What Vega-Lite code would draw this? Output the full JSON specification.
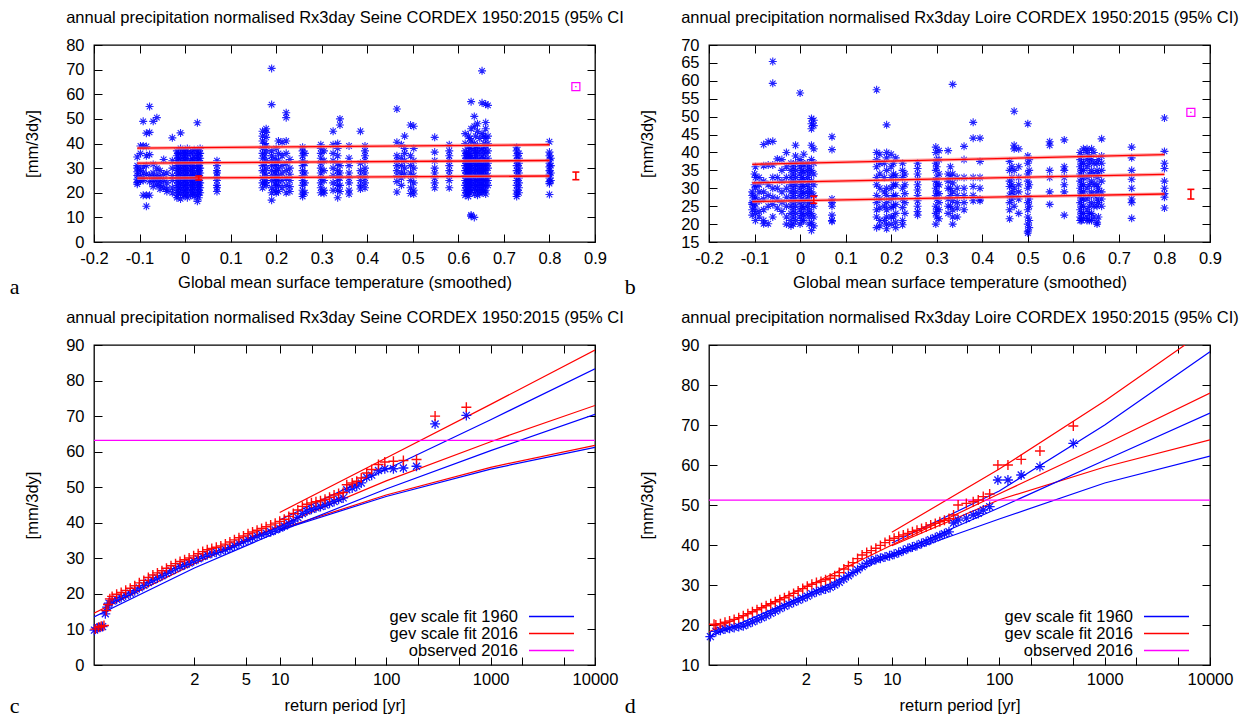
{
"$schema":"https://vega.github.io/schema/vega-lite/v6.json",
"background":"white",
"padding":{"left":8,"top":8,"right":0,"bottom":0},
"config":{
 "font":"Liberation Sans",
 "view":{"stroke":"#000","strokeWidth":1.3},
 "axis":{"domain":false,"grid":false,"labelFont":"Liberation Sans","titleFont":"Liberation Sans","labelFontSize":16.5,"titleFontSize":16.5,"titleFontWeight":"normal","labelColor":"#000","titleColor":"#000","tickColor":"#000","tickWidth":1,"tickSize":-8,"labelFlush":false,"labelOverlap":false}
},
"resolve":{"scale":{"color":"independent"},"legend":{"color":"independent"}},
"datasets":{
"aPts":[
{"t":-0.105,"v":34.5},{"t":-0.105,"v":31},{"t":-0.105,"v":28.5},{"t":-0.105,"v":27},{"t":-0.105,"v":25.5},{"t":-0.105,"v":24.2},{"t":-0.105,"v":23.5},{"t":-0.105,"v":30},
{"t":-0.098,"v":36},{"t":-0.098,"v":29},{"t":-0.098,"v":26.5},{"t":-0.098,"v":24.8},{"t":-0.098,"v":39},
{"t":-0.092,"v":49},{"t":-0.092,"v":39},{"t":-0.092,"v":30.5},{"t":-0.092,"v":28},{"t":-0.092,"v":25},{"t":-0.092,"v":19},{"t":-0.092,"v":26},
{"t":-0.085,"v":44.2},{"t":-0.085,"v":38.8},{"t":-0.085,"v":35},{"t":-0.085,"v":27.5},{"t":-0.085,"v":19},{"t":-0.085,"v":14.5},{"t":-0.085,"v":31},
{"t":-0.078,"v":55},{"t":-0.078,"v":44.5},{"t":-0.078,"v":35.5},{"t":-0.078,"v":27},{"t":-0.078,"v":24.5},{"t":-0.078,"v":19},
{"t":-0.07,"v":49},{"t":-0.07,"v":31.5},{"t":-0.07,"v":28},{"t":-0.07,"v":26},{"t":-0.07,"v":24.5},{"t":-0.07,"v":22.5},
{"t":-0.062,"v":50.5},{"t":-0.062,"v":30},{"t":-0.062,"v":27},{"t":-0.062,"v":25.5},{"t":-0.062,"v":23.5},
{"t":-0.055,"v":29},{"t":-0.055,"v":26.5},{"t":-0.055,"v":24.5},{"t":-0.055,"v":23},{"t":-0.055,"v":21.5},
{"t":-0.047,"v":33.5},{"t":-0.047,"v":27.5},{"t":-0.047,"v":25},{"t":-0.047,"v":22},
{"t":-0.04,"v":28},{"t":-0.04,"v":24},{"t":-0.04,"v":21.5},{"t":-0.04,"v":20.5},
{"t":-0.028,"v":42.3},{"t":-0.028,"v":33},{"t":-0.028,"v":30},{"t":-0.028,"v":27},{"t":-0.028,"v":25},{"t":-0.028,"v":22},{"t":-0.028,"v":20},
{"t":-0.018,"v":37},{"t":-0.018,"v":35},{"t":-0.018,"v":33},{"t":-0.018,"v":31},{"t":-0.018,"v":29},{"t":-0.018,"v":27},{"t":-0.018,"v":25},{"t":-0.018,"v":23},{"t":-0.018,"v":21},{"t":-0.018,"v":19},{"t":-0.018,"v":18},
{"t":-0.014,"v":36},{"t":-0.014,"v":34},{"t":-0.014,"v":32},{"t":-0.014,"v":30},{"t":-0.014,"v":28},{"t":-0.014,"v":26},{"t":-0.014,"v":24},{"t":-0.014,"v":22},{"t":-0.014,"v":20},
{"t":-0.01,"v":44.3},{"t":-0.01,"v":38},{"t":-0.01,"v":36},{"t":-0.01,"v":34},{"t":-0.01,"v":32},{"t":-0.01,"v":30},{"t":-0.01,"v":28},{"t":-0.01,"v":26},{"t":-0.01,"v":24},{"t":-0.01,"v":22},{"t":-0.01,"v":20},{"t":-0.01,"v":17.5},
{"t":-0.003,"v":37},{"t":-0.003,"v":35},{"t":-0.003,"v":33},{"t":-0.003,"v":31},{"t":-0.003,"v":29},{"t":-0.003,"v":27},{"t":-0.003,"v":25},{"t":-0.003,"v":23},{"t":-0.003,"v":21},{"t":-0.003,"v":19},
{"t":0.0,"v":37},{"t":0.0,"v":35},{"t":0.0,"v":33},{"t":0.0,"v":31},{"t":0.0,"v":29},{"t":0.0,"v":27},{"t":0.0,"v":25},{"t":0.0,"v":23},{"t":0.0,"v":21},{"t":0.0,"v":19},
{"t":0.005,"v":38},{"t":0.005,"v":36},{"t":0.005,"v":34},{"t":0.005,"v":32},{"t":0.005,"v":30},{"t":0.005,"v":28},{"t":0.005,"v":26},{"t":0.005,"v":24},{"t":0.005,"v":22},{"t":0.005,"v":20},{"t":0.005,"v":18},
{"t":0.012,"v":36},{"t":0.012,"v":33},{"t":0.012,"v":31},{"t":0.012,"v":29},{"t":0.012,"v":27},{"t":0.012,"v":25},{"t":0.012,"v":23},{"t":0.012,"v":21},{"t":0.012,"v":19},
{"t":0.016,"v":37},{"t":0.016,"v":34},{"t":0.016,"v":32},{"t":0.016,"v":30},{"t":0.016,"v":28},{"t":0.016,"v":26},{"t":0.016,"v":24},{"t":0.016,"v":22},{"t":0.016,"v":20},
{"t":0.02,"v":37.5},{"t":0.02,"v":35},{"t":0.02,"v":33},{"t":0.02,"v":30.5},{"t":0.02,"v":28},{"t":0.02,"v":26},{"t":0.02,"v":24},{"t":0.02,"v":22},{"t":0.02,"v":20},{"t":0.02,"v":18.5},
{"t":0.027,"v":48.4},{"t":0.027,"v":37},{"t":0.027,"v":35},{"t":0.027,"v":33},{"t":0.027,"v":31},{"t":0.027,"v":29},{"t":0.027,"v":27},{"t":0.027,"v":25},{"t":0.027,"v":23},{"t":0.027,"v":21},{"t":0.027,"v":19},{"t":0.027,"v":16.5},
{"t":0.03,"v":36},{"t":0.03,"v":34},{"t":0.03,"v":32},{"t":0.03,"v":30},{"t":0.03,"v":28},{"t":0.03,"v":24},{"t":0.03,"v":22},{"t":0.03,"v":20},{"t":0.03,"v":18},
{"t":0.033,"v":38},{"t":0.033,"v":36},{"t":0.033,"v":34},{"t":0.033,"v":32},{"t":0.033,"v":30},{"t":0.033,"v":28},{"t":0.033,"v":26},{"t":0.033,"v":24},{"t":0.033,"v":22},{"t":0.033,"v":20},
{"t":0.07,"v":33},{"t":0.07,"v":31},{"t":0.07,"v":29},{"t":0.07,"v":28},{"t":0.07,"v":26.5},{"t":0.07,"v":25},{"t":0.07,"v":23},{"t":0.07,"v":22},{"t":0.07,"v":20.5},
{"t":0.17,"v":45},{"t":0.17,"v":43},{"t":0.17,"v":41},{"t":0.17,"v":38},{"t":0.17,"v":36},{"t":0.17,"v":34},{"t":0.17,"v":31},{"t":0.17,"v":29},{"t":0.17,"v":26},{"t":0.17,"v":24},{"t":0.17,"v":22},
{"t":0.175,"v":40},{"t":0.175,"v":35},{"t":0.175,"v":32},{"t":0.175,"v":28},{"t":0.175,"v":24},
{"t":0.178,"v":46},{"t":0.178,"v":44.5},{"t":0.178,"v":42.5},{"t":0.178,"v":39},{"t":0.178,"v":37},{"t":0.178,"v":33},{"t":0.178,"v":30},{"t":0.178,"v":27},{"t":0.178,"v":25},{"t":0.178,"v":23},
{"t":0.19,"v":70.5},{"t":0.19,"v":55.8},{"t":0.19,"v":37},{"t":0.19,"v":35},{"t":0.19,"v":33},{"t":0.19,"v":31},{"t":0.19,"v":29},{"t":0.19,"v":27},{"t":0.19,"v":25},{"t":0.19,"v":22},{"t":0.19,"v":20},{"t":0.19,"v":17},
{"t":0.198,"v":34},{"t":0.198,"v":31},{"t":0.198,"v":28},{"t":0.198,"v":26},{"t":0.198,"v":24},{"t":0.198,"v":21},
{"t":0.2,"v":38},{"t":0.2,"v":32},{"t":0.2,"v":29},{"t":0.2,"v":26},{"t":0.2,"v":23},{"t":0.2,"v":20},
{"t":0.205,"v":41},{"t":0.205,"v":36},{"t":0.205,"v":33},{"t":0.205,"v":30},{"t":0.205,"v":27},{"t":0.205,"v":25},{"t":0.205,"v":23},{"t":0.205,"v":20.5},
{"t":0.213,"v":40.5},{"t":0.213,"v":35},{"t":0.213,"v":31},{"t":0.213,"v":28},{"t":0.213,"v":25},{"t":0.213,"v":22},
{"t":0.222,"v":52.5},{"t":0.222,"v":50.5},{"t":0.222,"v":41},{"t":0.222,"v":36},{"t":0.222,"v":32},{"t":0.222,"v":29},{"t":0.222,"v":26},{"t":0.222,"v":23},{"t":0.222,"v":20},
{"t":0.23,"v":33.5},{"t":0.23,"v":30},{"t":0.23,"v":27.5},{"t":0.23,"v":25},{"t":0.23,"v":22.5},{"t":0.23,"v":20.5},
{"t":0.258,"v":38.5},{"t":0.258,"v":37},{"t":0.258,"v":35},{"t":0.258,"v":33},{"t":0.258,"v":31},{"t":0.258,"v":29},{"t":0.258,"v":27},{"t":0.258,"v":25},{"t":0.258,"v":23},{"t":0.258,"v":21},{"t":0.258,"v":19.5},{"t":0.258,"v":18.5},
{"t":0.263,"v":36},{"t":0.263,"v":32},{"t":0.263,"v":28},{"t":0.263,"v":24},{"t":0.263,"v":20},
{"t":0.298,"v":39.5},{"t":0.298,"v":38},{"t":0.298,"v":36},{"t":0.298,"v":34},{"t":0.298,"v":32},{"t":0.298,"v":30},{"t":0.298,"v":28},{"t":0.298,"v":26},{"t":0.298,"v":24},{"t":0.298,"v":22},{"t":0.298,"v":20},
{"t":0.305,"v":37},{"t":0.305,"v":33},{"t":0.305,"v":29},{"t":0.305,"v":25},{"t":0.305,"v":21},{"t":0.305,"v":19.8},
{"t":0.325,"v":45},{"t":0.325,"v":39.5},{"t":0.325,"v":36},{"t":0.325,"v":33},{"t":0.325,"v":30},{"t":0.325,"v":27},{"t":0.325,"v":24},{"t":0.325,"v":21},
{"t":0.335,"v":40},{"t":0.335,"v":38},{"t":0.335,"v":35},{"t":0.335,"v":32},{"t":0.335,"v":29},{"t":0.335,"v":27},{"t":0.335,"v":25},{"t":0.335,"v":23},{"t":0.335,"v":21},{"t":0.335,"v":18},
{"t":0.34,"v":50},{"t":0.34,"v":47.5},{"t":0.34,"v":31},{"t":0.34,"v":28},{"t":0.34,"v":26},{"t":0.34,"v":23},{"t":0.34,"v":20.5},
{"t":0.36,"v":39},{"t":0.36,"v":34},{"t":0.36,"v":31},{"t":0.36,"v":28},{"t":0.36,"v":26},{"t":0.36,"v":24},{"t":0.36,"v":21},{"t":0.36,"v":19.5},
{"t":0.385,"v":45},{"t":0.385,"v":32},{"t":0.385,"v":29},{"t":0.385,"v":27},{"t":0.385,"v":25},{"t":0.385,"v":23},{"t":0.385,"v":21.5},
{"t":0.395,"v":39},{"t":0.395,"v":37},{"t":0.395,"v":35},{"t":0.395,"v":33},{"t":0.395,"v":30},{"t":0.395,"v":28},{"t":0.395,"v":26},{"t":0.395,"v":24},{"t":0.395,"v":22},
{"t":0.465,"v":54},{"t":0.465,"v":40.5},{"t":0.465,"v":35},{"t":0.465,"v":33},{"t":0.465,"v":31},{"t":0.465,"v":29},{"t":0.465,"v":27},{"t":0.465,"v":24.5},{"t":0.465,"v":20.3},
{"t":0.475,"v":39.5},{"t":0.475,"v":34},{"t":0.475,"v":31},{"t":0.475,"v":28},{"t":0.475,"v":26},{"t":0.475,"v":23},
{"t":0.482,"v":43},{"t":0.482,"v":38},{"t":0.482,"v":36},{"t":0.482,"v":33},{"t":0.482,"v":30},{"t":0.482,"v":27.5},
{"t":0.495,"v":47.5},{"t":0.495,"v":35},{"t":0.495,"v":31},{"t":0.495,"v":28},{"t":0.495,"v":25},{"t":0.495,"v":22},{"t":0.495,"v":19.7},
{"t":0.502,"v":47},{"t":0.502,"v":38},{"t":0.502,"v":33},{"t":0.502,"v":30},{"t":0.502,"v":27},{"t":0.502,"v":24},{"t":0.502,"v":21},{"t":0.502,"v":19.5},
{"t":0.548,"v":42.5},{"t":0.548,"v":36.5},{"t":0.548,"v":33},{"t":0.548,"v":30},{"t":0.548,"v":28},{"t":0.548,"v":26},{"t":0.548,"v":24},{"t":0.548,"v":22},
{"t":0.58,"v":39.5},{"t":0.58,"v":37},{"t":0.58,"v":35},{"t":0.58,"v":33},{"t":0.58,"v":31},{"t":0.58,"v":29},{"t":0.58,"v":27},{"t":0.58,"v":25},{"t":0.58,"v":22},
{"t":0.615,"v":44},{"t":0.615,"v":40},{"t":0.615,"v":37},{"t":0.615,"v":35},{"t":0.615,"v":33},{"t":0.615,"v":31},{"t":0.615,"v":29},{"t":0.615,"v":27},{"t":0.615,"v":25},{"t":0.615,"v":23},{"t":0.615,"v":21},{"t":0.615,"v":19},
{"t":0.618,"v":36},{"t":0.618,"v":34},{"t":0.618,"v":32},{"t":0.618,"v":30},{"t":0.618,"v":28},{"t":0.618,"v":26},{"t":0.618,"v":24},{"t":0.618,"v":22},{"t":0.618,"v":20},
{"t":0.622,"v":43},{"t":0.622,"v":39},{"t":0.622,"v":36},{"t":0.622,"v":34},{"t":0.622,"v":32},{"t":0.622,"v":30},{"t":0.622,"v":28},{"t":0.622,"v":26},{"t":0.622,"v":24},{"t":0.622,"v":22},{"t":0.622,"v":20},{"t":0.622,"v":18.5},
{"t":0.625,"v":42},{"t":0.625,"v":38},{"t":0.625,"v":36},{"t":0.625,"v":34},{"t":0.625,"v":32},{"t":0.625,"v":30},{"t":0.625,"v":28},{"t":0.625,"v":26},{"t":0.625,"v":24},{"t":0.625,"v":22},{"t":0.625,"v":20},
{"t":0.628,"v":57},{"t":0.628,"v":46},{"t":0.628,"v":41},{"t":0.628,"v":38},{"t":0.628,"v":35},{"t":0.628,"v":33},{"t":0.628,"v":31},{"t":0.628,"v":29},{"t":0.628,"v":27},{"t":0.628,"v":25},{"t":0.628,"v":23},{"t":0.628,"v":21},{"t":0.628,"v":10.5},{"t":0.628,"v":11},
{"t":0.635,"v":51},{"t":0.635,"v":47},{"t":0.635,"v":40},{"t":0.635,"v":37},{"t":0.635,"v":34},{"t":0.635,"v":32},{"t":0.635,"v":30},{"t":0.635,"v":28},{"t":0.635,"v":26},{"t":0.635,"v":24},{"t":0.635,"v":22},{"t":0.635,"v":19.5},{"t":0.635,"v":10},
{"t":0.638,"v":43},{"t":0.638,"v":39},{"t":0.638,"v":37},{"t":0.638,"v":35},{"t":0.638,"v":33},{"t":0.638,"v":31},{"t":0.638,"v":29},{"t":0.638,"v":27},{"t":0.638,"v":25},{"t":0.638,"v":23},{"t":0.638,"v":21},
{"t":0.642,"v":48},{"t":0.642,"v":45},{"t":0.642,"v":39},{"t":0.642,"v":36},{"t":0.642,"v":33},{"t":0.642,"v":31},{"t":0.642,"v":29},{"t":0.642,"v":27},{"t":0.642,"v":25},{"t":0.642,"v":23},{"t":0.642,"v":21},{"t":0.642,"v":19},
{"t":0.647,"v":42},{"t":0.647,"v":37},{"t":0.647,"v":34},{"t":0.647,"v":32},{"t":0.647,"v":30},{"t":0.647,"v":28},{"t":0.647,"v":26},{"t":0.647,"v":24},{"t":0.647,"v":22},{"t":0.647,"v":20},
{"t":0.652,"v":69.5},{"t":0.652,"v":56.5},{"t":0.652,"v":44},{"t":0.652,"v":38},{"t":0.652,"v":35},{"t":0.652,"v":32},{"t":0.652,"v":30},{"t":0.652,"v":28},{"t":0.652,"v":26},{"t":0.652,"v":24},{"t":0.652,"v":22},{"t":0.652,"v":20},
{"t":0.656,"v":43},{"t":0.656,"v":40},{"t":0.656,"v":37},{"t":0.656,"v":34},{"t":0.656,"v":31},{"t":0.656,"v":29},{"t":0.656,"v":27},{"t":0.656,"v":25},{"t":0.656,"v":23},{"t":0.656,"v":21},
{"t":0.66,"v":56},{"t":0.66,"v":48.5},{"t":0.66,"v":46},{"t":0.66,"v":42},{"t":0.66,"v":39},{"t":0.66,"v":36},{"t":0.66,"v":33},{"t":0.66,"v":31},{"t":0.66,"v":29},{"t":0.66,"v":27},{"t":0.66,"v":25},{"t":0.66,"v":23},{"t":0.66,"v":21},{"t":0.66,"v":19.5},
{"t":0.665,"v":55.5},{"t":0.665,"v":43},{"t":0.665,"v":40},{"t":0.665,"v":37},{"t":0.665,"v":34},{"t":0.665,"v":32},{"t":0.665,"v":30},{"t":0.665,"v":27},{"t":0.665,"v":25},{"t":0.665,"v":23},
{"t":0.728,"v":38.5},{"t":0.728,"v":37},{"t":0.728,"v":35},{"t":0.728,"v":33},{"t":0.728,"v":31},{"t":0.728,"v":29},{"t":0.728,"v":27},{"t":0.728,"v":25},{"t":0.728,"v":23},{"t":0.728,"v":21},{"t":0.728,"v":19.5},{"t":0.728,"v":18.5},
{"t":0.733,"v":36},{"t":0.733,"v":34},{"t":0.733,"v":32},{"t":0.733,"v":30},{"t":0.733,"v":28},{"t":0.733,"v":26},{"t":0.733,"v":24},{"t":0.733,"v":22},{"t":0.733,"v":20},
{"t":0.8,"v":40.7},{"t":0.8,"v":36.5},{"t":0.8,"v":35},{"t":0.8,"v":33.5},{"t":0.8,"v":32},{"t":0.8,"v":30.5},{"t":0.8,"v":29},{"t":0.8,"v":27.5},{"t":0.8,"v":26},{"t":0.8,"v":24.5},{"t":0.8,"v":23.7},{"t":0.8,"v":19.3},
{"t":0.803,"v":34},{"t":0.803,"v":31},{"t":0.803,"v":28},{"t":0.803,"v":25}
],
"bPts":[
{"t":-0.105,"v":29},{"t":-0.105,"v":26},{"t":-0.105,"v":24},{"t":-0.105,"v":22.5},{"t":-0.105,"v":25.5},{"t":-0.105,"v":28},
{"t":-0.1,"v":27},{"t":-0.1,"v":24.5},{"t":-0.1,"v":31},{"t":-0.1,"v":34},
{"t":-0.098,"v":36},{"t":-0.098,"v":33},{"t":-0.098,"v":30.3},{"t":-0.098,"v":27.5},{"t":-0.098,"v":25.6},{"t":-0.098,"v":23},{"t":-0.098,"v":21},
{"t":-0.09,"v":33},{"t":-0.09,"v":31},{"t":-0.09,"v":29},{"t":-0.09,"v":26.5},{"t":-0.09,"v":23.5},{"t":-0.09,"v":22},
{"t":-0.08,"v":42.2},{"t":-0.08,"v":36.3},{"t":-0.08,"v":32},{"t":-0.08,"v":29},{"t":-0.08,"v":27},{"t":-0.08,"v":24},{"t":-0.08,"v":21},{"t":-0.08,"v":20.1},
{"t":-0.07,"v":43},{"t":-0.07,"v":36.5},{"t":-0.07,"v":31},{"t":-0.07,"v":28},{"t":-0.07,"v":25},{"t":-0.07,"v":20.1},
{"t":-0.06,"v":65.4},{"t":-0.06,"v":59.3},{"t":-0.06,"v":43.1},{"t":-0.06,"v":36.5},{"t":-0.06,"v":33},{"t":-0.06,"v":30},{"t":-0.06,"v":27.5},{"t":-0.06,"v":25.5},{"t":-0.06,"v":22},
{"t":-0.05,"v":38.2},{"t":-0.05,"v":33},{"t":-0.05,"v":30},{"t":-0.05,"v":27},{"t":-0.05,"v":24.5},
{"t":-0.04,"v":38},{"t":-0.04,"v":35},{"t":-0.04,"v":32},{"t":-0.04,"v":29},{"t":-0.04,"v":26},{"t":-0.04,"v":23.5},
{"t":-0.03,"v":40},{"t":-0.03,"v":36},{"t":-0.03,"v":33},{"t":-0.03,"v":30},{"t":-0.03,"v":27.5},{"t":-0.03,"v":25},{"t":-0.03,"v":22},{"t":-0.03,"v":20},
{"t":-0.02,"v":37},{"t":-0.02,"v":35},{"t":-0.02,"v":33},{"t":-0.02,"v":31},{"t":-0.02,"v":29},{"t":-0.02,"v":27},{"t":-0.02,"v":25},{"t":-0.02,"v":23},{"t":-0.02,"v":21},{"t":-0.02,"v":19.5},
{"t":-0.015,"v":36},{"t":-0.015,"v":34},{"t":-0.015,"v":32},{"t":-0.015,"v":30},{"t":-0.015,"v":28},{"t":-0.015,"v":26},{"t":-0.015,"v":24},{"t":-0.015,"v":22},{"t":-0.015,"v":20},
{"t":-0.01,"v":42},{"t":-0.01,"v":39},{"t":-0.01,"v":37},{"t":-0.01,"v":35},{"t":-0.01,"v":33},{"t":-0.01,"v":31},{"t":-0.01,"v":29},{"t":-0.01,"v":27},{"t":-0.01,"v":25},{"t":-0.01,"v":23},{"t":-0.01,"v":21},
{"t":0,"v":56.6},{"t":0,"v":38},{"t":0,"v":36},{"t":0,"v":34},{"t":0,"v":32},{"t":0,"v":30},{"t":0,"v":28},{"t":0,"v":26},{"t":0,"v":24},{"t":0,"v":22},{"t":0,"v":20},
{"t":0.004,"v":37},{"t":0.004,"v":35},{"t":0.004,"v":33},{"t":0.004,"v":31},{"t":0.004,"v":29},{"t":0.004,"v":27},{"t":0.004,"v":25},{"t":0.004,"v":23},{"t":0.004,"v":21},
{"t":0.008,"v":39.5},{"t":0.008,"v":36.5},{"t":0.008,"v":34.5},{"t":0.008,"v":32.5},{"t":0.008,"v":30.5},{"t":0.008,"v":28.5},{"t":0.008,"v":26.5},{"t":0.008,"v":24.5},{"t":0.008,"v":22.5},{"t":0.008,"v":21},
{"t":0.016,"v":37},{"t":0.016,"v":35},{"t":0.016,"v":33},{"t":0.016,"v":31},{"t":0.016,"v":29},{"t":0.016,"v":27},{"t":0.016,"v":25},{"t":0.016,"v":23},
{"t":0.02,"v":36},{"t":0.02,"v":34},{"t":0.02,"v":32},{"t":0.02,"v":30},{"t":0.02,"v":28},{"t":0.02,"v":26},{"t":0.02,"v":24},{"t":0.02,"v":22},{"t":0.02,"v":20},
{"t":0.025,"v":49.5},{"t":0.025,"v":48},{"t":0.025,"v":46.6},{"t":0.025,"v":42},{"t":0.025,"v":38},{"t":0.025,"v":35},{"t":0.025,"v":32},{"t":0.025,"v":29},{"t":0.025,"v":26},{"t":0.025,"v":23},{"t":0.025,"v":20.5},{"t":0.025,"v":18.2},
{"t":0.03,"v":49},{"t":0.03,"v":47.5},{"t":0.03,"v":41},{"t":0.03,"v":37},{"t":0.03,"v":34},{"t":0.03,"v":31},{"t":0.03,"v":28},{"t":0.03,"v":25},{"t":0.03,"v":22},{"t":0.03,"v":19.5},
{"t":0.07,"v":44.4},{"t":0.07,"v":40.8},{"t":0.07,"v":27},{"t":0.07,"v":26},{"t":0.07,"v":25},{"t":0.07,"v":22.5},{"t":0.07,"v":21},{"t":0.07,"v":20.8},
{"t":0.168,"v":57.5},{"t":0.168,"v":40},{"t":0.168,"v":38},{"t":0.168,"v":36},{"t":0.168,"v":33},{"t":0.168,"v":31},{"t":0.168,"v":28},{"t":0.168,"v":26},{"t":0.168,"v":24},{"t":0.168,"v":22},{"t":0.168,"v":19},
{"t":0.175,"v":39.5},{"t":0.175,"v":37},{"t":0.175,"v":34},{"t":0.175,"v":30},{"t":0.175,"v":27},{"t":0.175,"v":24.5},{"t":0.175,"v":21},{"t":0.175,"v":19.5},
{"t":0.185,"v":37},{"t":0.185,"v":33},{"t":0.185,"v":29},{"t":0.185,"v":25},{"t":0.185,"v":21},
{"t":0.19,"v":47.7},{"t":0.19,"v":40},{"t":0.19,"v":38.5},{"t":0.19,"v":35},{"t":0.19,"v":30},{"t":0.19,"v":28},{"t":0.19,"v":26},{"t":0.19,"v":24},{"t":0.19,"v":22},{"t":0.19,"v":20},{"t":0.19,"v":18.7},
{"t":0.2,"v":39.5},{"t":0.2,"v":36},{"t":0.2,"v":33},{"t":0.2,"v":30},{"t":0.2,"v":27},{"t":0.2,"v":24.6},{"t":0.2,"v":22},{"t":0.2,"v":20},
{"t":0.205,"v":37},{"t":0.205,"v":34},{"t":0.205,"v":31},{"t":0.205,"v":28},{"t":0.205,"v":25},{"t":0.205,"v":22},
{"t":0.21,"v":38.5},{"t":0.21,"v":33.5},{"t":0.21,"v":31},{"t":0.21,"v":28},{"t":0.21,"v":25.5},{"t":0.21,"v":23},{"t":0.21,"v":20.5},{"t":0.21,"v":19},
{"t":0.225,"v":37},{"t":0.225,"v":35},{"t":0.225,"v":33},{"t":0.225,"v":30},{"t":0.225,"v":27},{"t":0.225,"v":24.6},{"t":0.225,"v":21},{"t":0.225,"v":19.8},
{"t":0.23,"v":34},{"t":0.23,"v":31},{"t":0.23,"v":28.5},{"t":0.23,"v":26},{"t":0.23,"v":23},
{"t":0.258,"v":37},{"t":0.258,"v":35.5},{"t":0.258,"v":34},{"t":0.258,"v":32.5},{"t":0.258,"v":31},{"t":0.258,"v":29.5},{"t":0.258,"v":28},{"t":0.258,"v":26.5},{"t":0.258,"v":25},{"t":0.258,"v":23.5},{"t":0.258,"v":22.5},
{"t":0.298,"v":41.5},{"t":0.298,"v":40},{"t":0.298,"v":37},{"t":0.298,"v":35},{"t":0.298,"v":32},{"t":0.298,"v":30},{"t":0.298,"v":28},{"t":0.298,"v":25},{"t":0.298,"v":23},{"t":0.298,"v":20},
{"t":0.3,"v":38},{"t":0.3,"v":36},{"t":0.3,"v":33},{"t":0.3,"v":31},{"t":0.3,"v":29},{"t":0.3,"v":27},{"t":0.3,"v":24},{"t":0.3,"v":22},
{"t":0.305,"v":40.5},{"t":0.305,"v":38},{"t":0.305,"v":34},{"t":0.305,"v":31},{"t":0.305,"v":28.5},{"t":0.305,"v":26},{"t":0.305,"v":24},{"t":0.305,"v":21.5},
{"t":0.325,"v":40.5},{"t":0.325,"v":34},{"t":0.325,"v":32},{"t":0.325,"v":30},{"t":0.325,"v":27},{"t":0.325,"v":25},{"t":0.325,"v":23},
{"t":0.33,"v":36},{"t":0.33,"v":33},{"t":0.33,"v":30},{"t":0.33,"v":28},{"t":0.33,"v":25},
{"t":0.335,"v":59},{"t":0.335,"v":34},{"t":0.335,"v":31.5},{"t":0.335,"v":29},{"t":0.335,"v":26.5},{"t":0.335,"v":24},{"t":0.335,"v":22},{"t":0.335,"v":20},
{"t":0.345,"v":33},{"t":0.345,"v":30},{"t":0.345,"v":28},{"t":0.345,"v":26},{"t":0.345,"v":24.5},{"t":0.345,"v":22},
{"t":0.36,"v":41.7},{"t":0.36,"v":38},{"t":0.36,"v":33},{"t":0.36,"v":30},{"t":0.36,"v":28},{"t":0.36,"v":26},{"t":0.36,"v":24},
{"t":0.38,"v":48.4},{"t":0.38,"v":44},{"t":0.38,"v":33},{"t":0.38,"v":30.5},{"t":0.38,"v":28},{"t":0.38,"v":26.5},
{"t":0.395,"v":44},{"t":0.395,"v":37.5},{"t":0.395,"v":33},{"t":0.395,"v":30},{"t":0.395,"v":27},{"t":0.395,"v":26.5},
{"t":0.46,"v":37.5},{"t":0.46,"v":35},{"t":0.46,"v":32},{"t":0.46,"v":30.5},{"t":0.46,"v":28},{"t":0.46,"v":26},{"t":0.46,"v":24},{"t":0.46,"v":21.5},
{"t":0.465,"v":36},{"t":0.465,"v":33},{"t":0.465,"v":31},{"t":0.465,"v":29},{"t":0.465,"v":27},
{"t":0.47,"v":51.5},{"t":0.47,"v":42},{"t":0.47,"v":41},{"t":0.47,"v":35},{"t":0.47,"v":30},{"t":0.47,"v":28},{"t":0.47,"v":25},
{"t":0.48,"v":41},{"t":0.48,"v":36},{"t":0.48,"v":33},{"t":0.48,"v":31},{"t":0.48,"v":29},{"t":0.48,"v":27},{"t":0.48,"v":23},
{"t":0.5,"v":48},{"t":0.5,"v":39},{"t":0.5,"v":37},{"t":0.5,"v":34},{"t":0.5,"v":32},{"t":0.5,"v":30},{"t":0.5,"v":28},{"t":0.5,"v":26},{"t":0.5,"v":24},{"t":0.5,"v":22},{"t":0.5,"v":20},{"t":0.5,"v":18},{"t":0.5,"v":17.5},
{"t":0.503,"v":38},{"t":0.503,"v":35},{"t":0.503,"v":31},{"t":0.503,"v":27},{"t":0.503,"v":25},{"t":0.503,"v":21},{"t":0.503,"v":19},
{"t":0.548,"v":43},{"t":0.548,"v":42},{"t":0.548,"v":35},{"t":0.548,"v":33},{"t":0.548,"v":29},{"t":0.548,"v":25.5},
{"t":0.58,"v":43.5},{"t":0.58,"v":36},{"t":0.58,"v":35},{"t":0.58,"v":33},{"t":0.58,"v":31},{"t":0.58,"v":29},{"t":0.58,"v":22.5},
{"t":0.615,"v":40},{"t":0.615,"v":38},{"t":0.615,"v":36},{"t":0.615,"v":34},{"t":0.615,"v":32},{"t":0.615,"v":30},{"t":0.615,"v":28},{"t":0.615,"v":26},{"t":0.615,"v":24},{"t":0.615,"v":22},{"t":0.615,"v":21},
{"t":0.618,"v":39},{"t":0.618,"v":37},{"t":0.618,"v":35},{"t":0.618,"v":33},{"t":0.618,"v":31},{"t":0.618,"v":29},{"t":0.618,"v":27},{"t":0.618,"v":25},{"t":0.618,"v":23},{"t":0.618,"v":21},
{"t":0.622,"v":41},{"t":0.622,"v":37},{"t":0.622,"v":35},{"t":0.622,"v":33},{"t":0.622,"v":31},{"t":0.622,"v":29},{"t":0.622,"v":27},{"t":0.622,"v":25},{"t":0.622,"v":23},{"t":0.622,"v":21.5},
{"t":0.63,"v":41},{"t":0.63,"v":40},{"t":0.63,"v":38},{"t":0.63,"v":36},{"t":0.63,"v":33},{"t":0.63,"v":30},{"t":0.63,"v":27},{"t":0.63,"v":24},{"t":0.63,"v":22},{"t":0.63,"v":21},
{"t":0.635,"v":39},{"t":0.635,"v":37},{"t":0.635,"v":34},{"t":0.635,"v":31},{"t":0.635,"v":28},{"t":0.635,"v":25},{"t":0.635,"v":23},{"t":0.635,"v":21},
{"t":0.64,"v":41},{"t":0.64,"v":38},{"t":0.64,"v":35},{"t":0.64,"v":32},{"t":0.64,"v":29},{"t":0.64,"v":26},{"t":0.64,"v":23},{"t":0.64,"v":21},
{"t":0.645,"v":40},{"t":0.645,"v":37},{"t":0.645,"v":34},{"t":0.645,"v":31},{"t":0.645,"v":28},{"t":0.645,"v":25},{"t":0.645,"v":22},
{"t":0.652,"v":37},{"t":0.652,"v":35},{"t":0.652,"v":33},{"t":0.652,"v":31},{"t":0.652,"v":29},{"t":0.652,"v":27},{"t":0.652,"v":25},{"t":0.652,"v":20.5},{"t":0.652,"v":20},
{"t":0.655,"v":38},{"t":0.655,"v":34},{"t":0.655,"v":30},{"t":0.655,"v":26},{"t":0.655,"v":22},
{"t":0.662,"v":43.8},{"t":0.662,"v":39},{"t":0.662,"v":37},{"t":0.662,"v":35},{"t":0.662,"v":32},{"t":0.662,"v":29},{"t":0.662,"v":27},{"t":0.662,"v":25},
{"t":0.728,"v":41.5},{"t":0.728,"v":38.5},{"t":0.728,"v":35},{"t":0.728,"v":32.5},{"t":0.728,"v":30},{"t":0.728,"v":27},{"t":0.728,"v":26},{"t":0.728,"v":21.6},
{"t":0.8,"v":49.6},{"t":0.8,"v":40.3},{"t":0.8,"v":37},{"t":0.8,"v":35.5},{"t":0.8,"v":32},{"t":0.8,"v":30},{"t":0.8,"v":28.5},{"t":0.8,"v":27.5},{"t":0.8,"v":24.5}
],
"aFit":[{"t":-0.105,"v":25.9,"q":"lo"},{"t":0.8,"v":26.8,"q":"lo"},{"t":-0.105,"v":32.0,"q":"mid"},{"t":0.8,"v":33.1,"q":"mid"},{"t":-0.105,"v":38.1,"q":"hi"},{"t":0.8,"v":39.5,"q":"hi"}],
"bFit":[{"t":-0.105,"v":26.3,"q":"lo"},{"t":0.8,"v":28.4,"q":"lo"},{"t":-0.105,"v":31.5,"q":"mid"},{"t":0.8,"v":33.9,"q":"mid"},{"t":-0.105,"v":36.7,"q":"hi"},{"t":0.8,"v":39.4,"q":"hi"}],
"aErr":[{"t":0.03,"v":25.2,"v2":26.8},{"t":0.858,"v":25.3,"v2":28.4}],
"bErr":[{"t":0.03,"v":25.8,"v2":27.8},{"t":0.858,"v":27.0,"v2":29.7}],
"aObs":[{"t":0.858,"v":63.1}],
"bObs":[{"t":0.858,"v":51.2}],
"cFit":[
{"g":2.25,"v":42.9,"series":"gev scale fit 2016","band":"up"},{"g":4.6,"v":58.2,"series":"gev scale fit 2016","band":"up"},{"g":6.907,"v":73.3,"series":"gev scale fit 2016","band":"up"},{"g":9.21,"v":88.6,"series":"gev scale fit 2016","band":"up"},
{"g":-1.85,"v":14.6,"series":"gev scale fit 2016","band":"mid"},{"g":0.366,"v":28.5,"series":"gev scale fit 2016","band":"mid"},{"g":2.25,"v":39.2,"series":"gev scale fit 2016","band":"mid"},{"g":4.6,"v":51.8,"series":"gev scale fit 2016","band":"mid"},{"g":6.907,"v":62.8,"series":"gev scale fit 2016","band":"mid"},{"g":9.21,"v":73.0,"series":"gev scale fit 2016","band":"mid"},
{"g":2.25,"v":38.2,"series":"gev scale fit 2016","band":"lo"},{"g":4.6,"v":47.8,"series":"gev scale fit 2016","band":"lo"},{"g":6.907,"v":55.6,"series":"gev scale fit 2016","band":"lo"},{"g":9.21,"v":61.8,"series":"gev scale fit 2016","band":"lo"},
{"g":2.25,"v":40.8,"series":"gev scale fit 1960","band":"up"},{"g":4.6,"v":55.0,"series":"gev scale fit 1960","band":"up"},{"g":6.907,"v":69.0,"series":"gev scale fit 1960","band":"up"},{"g":9.21,"v":83.3,"series":"gev scale fit 1960","band":"up"},
{"g":-1.85,"v":13.5,"series":"gev scale fit 1960","band":"mid"},{"g":0.366,"v":27.3,"series":"gev scale fit 1960","band":"mid"},{"g":2.25,"v":37.6,"series":"gev scale fit 1960","band":"mid"},{"g":4.6,"v":49.5,"series":"gev scale fit 1960","band":"mid"},{"g":6.907,"v":60.3,"series":"gev scale fit 1960","band":"mid"},{"g":9.21,"v":70.5,"series":"gev scale fit 1960","band":"mid"},
{"g":2.25,"v":37.9,"series":"gev scale fit 1960","band":"lo"},{"g":4.6,"v":47.4,"series":"gev scale fit 1960","band":"lo"},{"g":6.907,"v":55.1,"series":"gev scale fit 1960","band":"lo"},{"g":9.21,"v":61.2,"series":"gev scale fit 1960","band":"lo"}
],
"dFit":[
{"g":2.25,"v":43.2,"series":"gev scale fit 2016","band":"up"},{"g":4.6,"v":59.0,"series":"gev scale fit 2016","band":"up"},{"g":6.907,"v":76.0,"series":"gev scale fit 2016","band":"up"},{"g":8.66,"v":90.0,"series":"gev scale fit 2016","band":"up"},
{"g":-1.75,"v":18.3,"series":"gev scale fit 2016","band":"mid"},{"g":0.366,"v":29.5,"series":"gev scale fit 2016","band":"mid"},{"g":2.25,"v":40.0,"series":"gev scale fit 2016","band":"mid"},{"g":4.6,"v":52.8,"series":"gev scale fit 2016","band":"mid"},{"g":6.907,"v":65.2,"series":"gev scale fit 2016","band":"mid"},{"g":9.21,"v":78.0,"series":"gev scale fit 2016","band":"mid"},
{"g":2.25,"v":39.8,"series":"gev scale fit 2016","band":"lo"},{"g":4.6,"v":51.3,"series":"gev scale fit 2016","band":"lo"},{"g":6.907,"v":59.5,"series":"gev scale fit 2016","band":"lo"},{"g":9.21,"v":66.3,"series":"gev scale fit 2016","band":"lo"},
{"g":2.25,"v":40.5,"series":"gev scale fit 1960","band":"up"},{"g":4.6,"v":53.5,"series":"gev scale fit 1960","band":"up"},{"g":6.907,"v":70.0,"series":"gev scale fit 1960","band":"up"},{"g":9.21,"v":88.3,"series":"gev scale fit 1960","band":"up"},
{"g":-1.75,"v":17.0,"series":"gev scale fit 1960","band":"mid"},{"g":0.366,"v":27.5,"series":"gev scale fit 1960","band":"mid"},{"g":2.25,"v":37.5,"series":"gev scale fit 1960","band":"mid"},{"g":4.6,"v":49.3,"series":"gev scale fit 1960","band":"mid"},{"g":6.907,"v":61.2,"series":"gev scale fit 1960","band":"mid"},{"g":9.21,"v":73.0,"series":"gev scale fit 1960","band":"mid"},
{"g":2.25,"v":37.0,"series":"gev scale fit 1960","band":"lo"},{"g":4.6,"v":46.5,"series":"gev scale fit 1960","band":"lo"},{"g":6.907,"v":55.5,"series":"gev scale fit 1960","band":"lo"},{"g":9.21,"v":62.2,"series":"gev scale fit 1960","band":"lo"}
],
"cObs":[{"v":63.2,"series":"observed 2016"}],
"dObs":[{"v":51.2,"series":"observed 2016"}],
"cBlue":[
{"g":-1.84,"v":9.8},{"g":-1.78,"v":10.4},{"g":-1.72,"v":10.6},{"g":-1.66,"v":10.8},{"g":-1.6,"v":14.4},{"g":-1.56,"v":16.3},{"g":-1.52,"v":17.4},
{"g":-1.45,"v":18.0},{"g":-1.35,"v":18.5},{"g":-1.25,"v":19.0},{"g":-1.15,"v":19.6},{"g":-1.05,"v":20.2},{"g":-0.95,"v":20.9},{"g":-0.85,"v":21.7},{"g":-0.75,"v":22.4},{"g":-0.65,"v":23.2},{"g":-0.55,"v":23.9},{"g":-0.45,"v":24.5},{"g":-0.35,"v":25.1},{"g":-0.25,"v":25.8},{"g":-0.15,"v":26.5},{"g":-0.05,"v":27.1},{"g":0.05,"v":27.7},{"g":0.15,"v":28.2},{"g":0.25,"v":28.7},{"g":0.35,"v":29.3},{"g":0.45,"v":29.9},{"g":0.55,"v":30.5},{"g":0.65,"v":31.0},{"g":0.75,"v":31.4},{"g":0.85,"v":31.7},{"g":0.95,"v":32.1},{"g":1.05,"v":32.5},{"g":1.15,"v":33.0},{"g":1.25,"v":33.6},{"g":1.35,"v":34.2},{"g":1.45,"v":34.7},{"g":1.55,"v":35.3},{"g":1.65,"v":35.8},{"g":1.75,"v":36.3},{"g":1.85,"v":36.7},{"g":1.95,"v":37.1},{"g":2.05,"v":37.5},{"g":2.15,"v":38.0},{"g":2.25,"v":38.5},{"g":2.35,"v":39.1},{"g":2.45,"v":39.8},{"g":2.55,"v":40.5},{"g":2.65,"v":41.5},{"g":2.75,"v":42.6},{"g":2.85,"v":43.3},{"g":2.95,"v":43.8},{"g":3.05,"v":44.2},{"g":3.15,"v":44.6},{"g":3.25,"v":45.0},{"g":3.35,"v":45.5},{"g":3.45,"v":46.0},{"g":3.55,"v":46.6},{"g":3.65,"v":47.0},
{"g":3.73,"v":49.3},{"g":3.85,"v":49.8},{"g":3.95,"v":50.3},{"g":4.05,"v":51.2},{"g":4.17,"v":52.8},{"g":4.28,"v":53.4},{"g":4.43,"v":54.7},{"g":4.57,"v":55.2},{"g":4.76,"v":55.2},{"g":4.98,"v":55.4},{"g":5.27,"v":55.9},{"g":5.68,"v":67.8},{"g":6.37,"v":70.2}
],
"cRed":[
{"g":-1.82,"v":10.1},{"g":-1.75,"v":10.6},{"g":-1.69,"v":10.9},{"g":-1.63,"v":11.1},{"g":-1.58,"v":15.3},{"g":-1.54,"v":17.0},{"g":-1.5,"v":18.6},
{"g":-1.45,"v":19.3},{"g":-1.35,"v":19.9},{"g":-1.25,"v":20.4},{"g":-1.15,"v":21.0},{"g":-1.05,"v":21.6},{"g":-0.95,"v":22.3},{"g":-0.85,"v":23.1},{"g":-0.75,"v":23.8},{"g":-0.65,"v":24.6},{"g":-0.55,"v":25.3},{"g":-0.45,"v":25.9},{"g":-0.35,"v":26.5},{"g":-0.25,"v":27.2},{"g":-0.15,"v":27.9},{"g":-0.05,"v":28.5},{"g":0.05,"v":29.1},{"g":0.15,"v":29.6},{"g":0.25,"v":30.1},{"g":0.35,"v":30.7},{"g":0.45,"v":31.3},{"g":0.55,"v":31.9},{"g":0.65,"v":32.4},{"g":0.75,"v":32.8},{"g":0.85,"v":33.1},{"g":0.95,"v":33.5},{"g":1.05,"v":34.0},{"g":1.15,"v":34.6},{"g":1.25,"v":35.2},{"g":1.35,"v":35.8},{"g":1.45,"v":36.3},{"g":1.55,"v":36.9},{"g":1.65,"v":37.4},{"g":1.75,"v":37.9},{"g":1.85,"v":38.4},{"g":1.95,"v":38.9},{"g":2.05,"v":39.4},{"g":2.15,"v":39.9},{"g":2.25,"v":40.4},{"g":2.35,"v":41.0},{"g":2.45,"v":41.8},{"g":2.55,"v":42.6},{"g":2.65,"v":43.6},{"g":2.75,"v":44.6},{"g":2.85,"v":45.2},{"g":2.95,"v":45.6},{"g":3.05,"v":45.9},{"g":3.15,"v":46.2},{"g":3.25,"v":46.6},{"g":3.35,"v":47.2},{"g":3.45,"v":47.8},{"g":3.55,"v":48.2},{"g":3.65,"v":48.5},
{"g":3.73,"v":50.7},{"g":3.85,"v":51.2},{"g":3.95,"v":51.7},{"g":4.05,"v":52.6},{"g":4.17,"v":54.0},{"g":4.28,"v":55.0},{"g":4.43,"v":56.4},{"g":4.57,"v":57.1},{"g":4.76,"v":57.3},{"g":4.98,"v":57.5},{"g":5.27,"v":57.8},{"g":5.68,"v":70.0},{"g":6.37,"v":72.5}
],
"dBlue":[
{"g":-1.72,"v":17.1},
{"g":-1.6,"v":18.4},{"g":-1.5,"v":18.7},{"g":-1.4,"v":19.0},{"g":-1.3,"v":19.2},{"g":-1.2,"v":19.4},{"g":-1.1,"v":19.6},{"g":-1.0,"v":19.8},{"g":-0.9,"v":20.3},{"g":-0.8,"v":20.8},{"g":-0.7,"v":21.3},{"g":-0.6,"v":21.8},{"g":-0.5,"v":22.3},{"g":-0.4,"v":22.9},{"g":-0.3,"v":23.5},{"g":-0.2,"v":24.1},{"g":-0.1,"v":24.7},{"g":0.0,"v":25.2},{"g":0.1,"v":25.7},{"g":0.2,"v":26.2},{"g":0.3,"v":26.7},{"g":0.4,"v":27.2},{"g":0.5,"v":27.8},{"g":0.6,"v":28.3},{"g":0.7,"v":28.7},{"g":0.8,"v":29.0},{"g":0.9,"v":29.4},{"g":1.0,"v":30.0},{"g":1.1,"v":30.7},{"g":1.2,"v":31.5},{"g":1.3,"v":32.3},{"g":1.4,"v":33.1},{"g":1.5,"v":33.8},{"g":1.6,"v":34.6},{"g":1.7,"v":35.4},{"g":1.8,"v":36.0},{"g":1.9,"v":36.4},{"g":2.0,"v":36.7},{"g":2.1,"v":37.0},{"g":2.2,"v":37.3},{"g":2.3,"v":37.7},{"g":2.4,"v":38.1},{"g":2.5,"v":38.6},{"g":2.6,"v":39.1},{"g":2.7,"v":39.5},{"g":2.8,"v":39.9},{"g":2.9,"v":40.4},{"g":3.0,"v":40.8},{"g":3.1,"v":41.3},{"g":3.2,"v":41.8},{"g":3.3,"v":42.3},{"g":3.4,"v":42.8},{"g":3.5,"v":43.3},{"g":3.6,"v":45.5},
{"g":3.7,"v":46.25},{"g":3.88,"v":46.7},{"g":4.03,"v":47.5},{"g":4.14,"v":47.9},{"g":4.25,"v":48.75},{"g":4.39,"v":49.6},{"g":4.57,"v":56.25},{"g":4.79,"v":56.25},{"g":5.08,"v":57.5},{"g":5.49,"v":59.6},{"g":6.22,"v":65.4}
],
"dRed":[
{"g":-1.64,"v":20.2},
{"g":-1.6,"v":20.0},{"g":-1.5,"v":20.3},{"g":-1.4,"v":20.7},{"g":-1.3,"v":21.0},{"g":-1.2,"v":21.4},{"g":-1.1,"v":21.8},{"g":-1.0,"v":22.3},{"g":-0.9,"v":22.8},{"g":-0.8,"v":23.3},{"g":-0.7,"v":23.8},{"g":-0.6,"v":24.3},{"g":-0.5,"v":24.8},{"g":-0.4,"v":25.3},{"g":-0.3,"v":25.8},{"g":-0.2,"v":26.3},{"g":-0.1,"v":26.8},{"g":0.0,"v":27.3},{"g":0.1,"v":27.9},{"g":0.2,"v":28.5},{"g":0.3,"v":29.1},{"g":0.4,"v":29.7},{"g":0.5,"v":30.2},{"g":0.6,"v":30.6},{"g":0.7,"v":30.9},{"g":0.8,"v":31.3},{"g":0.9,"v":31.7},{"g":1.0,"v":32.3},{"g":1.1,"v":33.1},{"g":1.2,"v":34.0},{"g":1.3,"v":34.8},{"g":1.4,"v":35.6},{"g":1.5,"v":36.6},{"g":1.6,"v":37.5},{"g":1.7,"v":38.1},{"g":1.8,"v":38.6},{"g":1.9,"v":39.2},{"g":2.0,"v":39.9},{"g":2.1,"v":40.6},{"g":2.2,"v":41.2},{"g":2.3,"v":41.7},{"g":2.4,"v":42.1},{"g":2.5,"v":42.5},{"g":2.6,"v":42.9},{"g":2.7,"v":43.3},{"g":2.8,"v":43.7},{"g":2.9,"v":44.1},{"g":3.0,"v":44.5},{"g":3.1,"v":45.0},{"g":3.2,"v":45.4},{"g":3.3,"v":45.8},{"g":3.4,"v":46.2},{"g":3.5,"v":46.6},{"g":3.6,"v":47.5},
{"g":3.7,"v":50.0},{"g":3.88,"v":50.4},{"g":4.03,"v":50.8},{"g":4.14,"v":51.25},{"g":4.25,"v":52.1},{"g":4.39,"v":52.75},{"g":4.57,"v":60.0},{"g":4.79,"v":60.0},{"g":5.08,"v":61.4},{"g":5.49,"v":63.5},{"g":6.22,"v":69.75}
]
},
"columns":2,
"spacing":{"row":103,"column":114},
"bounds":"flush",
"concat":[
{
 "width":501,"height":197,
 "title":{"text":"a","orient":"bottom","anchor":"start","frame":"bounds","font":"Liberation Serif","fontSize":22,"fontWeight":"normal","color":"#000","dx":-15,"offset":-14},
 "resolve":{"axis":{"x":"independent","y":"independent"}},
 "layer":[
  {"data":{"name":"aPts"},"mark":{"type":"point","shape":"M-1,0L1,0M0,-1L0,1M-0.7,-0.7L0.7,0.7M-0.7,0.7L0.7,-0.7","filled":false,"size":64,"strokeWidth":1.1,"color":"#0000ff","opacity":0.85},
   "encoding":{
    "x":{"field":"t","type":"quantitative","scale":{"domain":[-0.2,0.9],"nice":false,"zero":false},"axis":{"orient":"bottom","values":[-0.2,-0.1,0,0.1,0.2,0.3,0.4,0.5,0.6,0.7,0.8,0.9],"labelExpr":"replace(format(datum.value,'.1~f'),'\u2212','-')","title":"Global mean surface temperature (smoothed)","labelPadding":16,"titlePadding":8}},
    "y":{"field":"v","type":"quantitative","scale":{"domain":[0,80],"nice":false,"zero":false},"axis":{"orient":"left","values":[0,10,20,30,40,50,60,70,80],"title":"[mm/3dy]","labelPadding":18,"titlePadding":25}}}},
  {"data":{"name":"aFit"},"mark":{"type":"line","color":"#ff8c8c","strokeWidth":3.5,"opacity":0.7},
   "encoding":{"x":{"field":"t","type":"quantitative","axis":null},"y":{"field":"v","type":"quantitative","axis":null},"detail":{"field":"q"}}},
  {"data":{"name":"aFit"},"mark":{"type":"line","color":"#ff0000","strokeWidth":1.3},
   "encoding":{"x":{"field":"t","type":"quantitative","axis":null},"y":{"field":"v","type":"quantitative","axis":null},"detail":{"field":"q"}}},
  {"data":{"name":"aErr"},"mark":{"type":"rule","color":"#ff0000","strokeWidth":1.6},
   "encoding":{"x":{"field":"t","type":"quantitative","axis":null},"y":{"field":"v","type":"quantitative","axis":null},"y2":{"field":"v2"}}},
  {"data":{"name":"aErr"},"mark":{"type":"point","shape":"stroke","size":49,"strokeWidth":1.6,"color":"#ff0000","opacity":1},
   "encoding":{"x":{"field":"t","type":"quantitative","axis":null},"y":{"field":"v","type":"quantitative","axis":null}}},
  {"data":{"name":"aErr"},"mark":{"type":"point","shape":"stroke","size":49,"strokeWidth":1.6,"color":"#ff0000","opacity":1},
   "encoding":{"x":{"field":"t","type":"quantitative","axis":null},"y":{"field":"v2","type":"quantitative","axis":null}}},
  {"data":{"name":"aObs"},"mark":{"type":"point","shape":"square","filled":false,"size":64,"strokeWidth":1.2,"color":"#ff00ff","opacity":1},
   "encoding":{"x":{"field":"t","type":"quantitative","axis":null},"y":{"field":"v","type":"quantitative","axis":null}}},
  {"data":{"name":"aObs"},"mark":{"type":"point","shape":"square","filled":true,"size":2,"color":"#ff00ff","opacity":1},
   "encoding":{"x":{"field":"t","type":"quantitative","axis":{"orient":"top","values":[-0.2,-0.1,0,0.1,0.2,0.3,0.4,0.5,0.6,0.7,0.8,0.9],"labels":false,"title":"annual precipitation normalised Rx3day Seine CORDEX 1950:2015 (95% CI","titlePadding":19}},
    "y":{"field":"v","type":"quantitative","axis":{"orient":"right","values":[0,10,20,30,40,50,60,70,80],"labels":false,"title":null}}}}
 ]
},
{
 "width":501,"height":197,
 "title":{"text":"b","orient":"bottom","anchor":"start","frame":"bounds","font":"Liberation Serif","fontSize":22,"fontWeight":"normal","color":"#000","dx":-15,"offset":-14},
 "resolve":{"axis":{"x":"independent","y":"independent"}},
 "layer":[
  {"data":{"name":"bPts"},"mark":{"type":"point","shape":"M-1,0L1,0M0,-1L0,1M-0.7,-0.7L0.7,0.7M-0.7,0.7L0.7,-0.7","filled":false,"size":64,"strokeWidth":1.1,"color":"#0000ff","opacity":0.85},
   "encoding":{
    "x":{"field":"t","type":"quantitative","scale":{"domain":[-0.2,0.9],"nice":false,"zero":false},"axis":{"orient":"bottom","values":[-0.2,-0.1,0,0.1,0.2,0.3,0.4,0.5,0.6,0.7,0.8,0.9],"labelExpr":"replace(format(datum.value,'.1~f'),'\u2212','-')","title":"Global mean surface temperature (smoothed)","labelPadding":16,"titlePadding":8}},
    "y":{"field":"v","type":"quantitative","scale":{"domain":[15,70],"nice":false,"zero":false},"axis":{"orient":"left","values":[15,20,25,30,35,40,45,50,55,60,65,70],"title":"[mm/3dy]","labelPadding":18,"titlePadding":25}}}},
  {"data":{"name":"bFit"},"mark":{"type":"line","color":"#ff8c8c","strokeWidth":3.5,"opacity":0.7},
   "encoding":{"x":{"field":"t","type":"quantitative","axis":null},"y":{"field":"v","type":"quantitative","axis":null},"detail":{"field":"q"}}},
  {"data":{"name":"bFit"},"mark":{"type":"line","color":"#ff0000","strokeWidth":1.3},
   "encoding":{"x":{"field":"t","type":"quantitative","axis":null},"y":{"field":"v","type":"quantitative","axis":null},"detail":{"field":"q"}}},
  {"data":{"name":"bErr"},"mark":{"type":"rule","color":"#ff0000","strokeWidth":1.6},
   "encoding":{"x":{"field":"t","type":"quantitative","axis":null},"y":{"field":"v","type":"quantitative","axis":null},"y2":{"field":"v2"}}},
  {"data":{"name":"bErr"},"mark":{"type":"point","shape":"stroke","size":49,"strokeWidth":1.6,"color":"#ff0000","opacity":1},
   "encoding":{"x":{"field":"t","type":"quantitative","axis":null},"y":{"field":"v","type":"quantitative","axis":null}}},
  {"data":{"name":"bErr"},"mark":{"type":"point","shape":"stroke","size":49,"strokeWidth":1.6,"color":"#ff0000","opacity":1},
   "encoding":{"x":{"field":"t","type":"quantitative","axis":null},"y":{"field":"v2","type":"quantitative","axis":null}}},
  {"data":{"name":"bObs"},"mark":{"type":"point","shape":"square","filled":false,"size":64,"strokeWidth":1.2,"color":"#ff00ff","opacity":1},
   "encoding":{"x":{"field":"t","type":"quantitative","axis":null},"y":{"field":"v","type":"quantitative","axis":null}}},
  {"data":{"name":"bObs"},"mark":{"type":"point","shape":"square","filled":true,"size":2,"color":"#ff00ff","opacity":1},
   "encoding":{"x":{"field":"t","type":"quantitative","axis":{"orient":"top","values":[-0.2,-0.1,0,0.1,0.2,0.3,0.4,0.5,0.6,0.7,0.8,0.9],"labels":false,"title":"annual precipitation normalised Rx3day Loire CORDEX 1950:2015 (95% CI)","titlePadding":19}},
    "y":{"field":"v","type":"quantitative","axis":{"orient":"right","values":[15,20,25,30,35,40,45,50,55,60,65,70],"labels":false,"title":null}}}}
 ]
},
{
 "width":501,"height":320,
 "title":{"text":"c","orient":"bottom","anchor":"start","frame":"bounds","font":"Liberation Serif","fontSize":22,"fontWeight":"normal","color":"#000","dx":-15,"offset":-18},
 "resolve":{"axis":{"x":"independent","y":"independent"}},
 "layer":[
  {"data":{"name":"cFit"},"mark":{"type":"line","strokeWidth":1.2,"clip":true},
   "encoding":{
    "x":{"field":"g","type":"quantitative","scale":{"domain":[-1.85,9.2103],"nice":false,"zero":false},"axis":{"orient":"bottom","values":[0.3665,1.4999,2.2504,2.9702,3.9019,4.6001,5.2958,6.2136,6.9073,7.6007,8.5171,9.2103],"labelExpr":"datum.value<0.5?'2':datum.value<1.6?'5':datum.value<2.5?'10':(datum.value>4.5&&datum.value<4.7)?'100':(datum.value>6.8&&datum.value<7)?'1000':datum.value>9?'10000':''","title":"return period [yr]","labelPadding":14,"titlePadding":10}},
    "y":{"field":"v","type":"quantitative","scale":{"domain":[0,90],"nice":false,"zero":false},"axis":{"orient":"left","values":[0,10,20,30,40,50,60,70,80,90],"title":"[mm/3dy]","labelPadding":18,"titlePadding":25}},
    "color":{"field":"series","type":"nominal","scale":{"domain":["gev scale fit 1960","gev scale fit 2016","observed 2016"],"range":["#0000ff","#ff0000","#ff00ff"]},
      "legend":{"orient":"bottom-right","title":null,"symbolType":"M-3,0L3,0M4.6,0L4.6,0","symbolSize":225,"symbolStrokeWidth":1.4,"labelAlign":"right","labelOffset":-42,"labelFontSize":16.5,"labelFont":"Liberation Sans","labelColor":"#000","rowPadding":0,"offset":6,"padding":0,"labelLimit":300}},
    "detail":{"field":"band"}}},
  {"data":{"name":"cObs"},"mark":{"type":"rule","strokeWidth":1.3},
   "encoding":{"y":{"field":"v","type":"quantitative","axis":null},"color":{"field":"series","type":"nominal"}}},
  {"data":{"name":"cBlue"},"mark":{"type":"point","shape":"M-1,0L1,0M0,-1L0,1M-0.7,-0.7L0.7,0.7M-0.7,0.7L0.7,-0.7","filled":false,"size":100,"strokeWidth":1.3,"color":"#0000ff","opacity":0.9},
   "encoding":{"x":{"field":"g","type":"quantitative","axis":null},"y":{"field":"v","type":"quantitative","axis":null}}},
  {"data":{"name":"cRed"},"mark":{"type":"point","shape":"M-1,0L1,0M0,-1L0,1","filled":false,"size":100,"strokeWidth":1.4,"color":"#ff0000","opacity":0.95},
   "encoding":{"x":{"field":"g","type":"quantitative","axis":{"orient":"top","values":[0.3665,1.4999,2.2504,2.9702,3.9019,4.6001,5.2958,6.2136,6.9073,7.6007,8.5171,9.2103],"labels":false,"title":"annual precipitation normalised Rx3day Seine CORDEX 1950:2015 (95% CI","titlePadding":19}},
    "y":{"field":"v","type":"quantitative","axis":{"orient":"right","values":[0,10,20,30,40,50,60,70,80,90],"labels":false,"title":null}}}}
 ]
},
{
 "width":501,"height":320,
 "title":{"text":"d","orient":"bottom","anchor":"start","frame":"bounds","font":"Liberation Serif","fontSize":22,"fontWeight":"normal","color":"#000","dx":-15,"offset":-18},
 "resolve":{"axis":{"x":"independent","y":"independent"}},
 "layer":[
  {"data":{"name":"dFit"},"mark":{"type":"line","strokeWidth":1.2,"clip":true},
   "encoding":{
    "x":{"field":"g","type":"quantitative","scale":{"domain":[-1.75,9.2103],"nice":false,"zero":false},"axis":{"orient":"bottom","values":[0.3665,1.4999,2.2504,2.9702,3.9019,4.6001,5.2958,6.2136,6.9073,7.6007,8.5171,9.2103],"labelExpr":"datum.value<0.5?'2':datum.value<1.6?'5':datum.value<2.5?'10':(datum.value>4.5&&datum.value<4.7)?'100':(datum.value>6.8&&datum.value<7)?'1000':datum.value>9?'10000':''","title":"return period [yr]","labelPadding":14,"titlePadding":10}},
    "y":{"field":"v","type":"quantitative","scale":{"domain":[10,90],"nice":false,"zero":false},"axis":{"orient":"left","values":[10,20,30,40,50,60,70,80,90],"title":"[mm/3dy]","labelPadding":18,"titlePadding":25}},
    "color":{"field":"series","type":"nominal","scale":{"domain":["gev scale fit 1960","gev scale fit 2016","observed 2016"],"range":["#0000ff","#ff0000","#ff00ff"]},
      "legend":{"orient":"bottom-right","title":null,"symbolType":"M-3,0L3,0M4.6,0L4.6,0","symbolSize":225,"symbolStrokeWidth":1.4,"labelAlign":"right","labelOffset":-42,"labelFontSize":16.5,"labelFont":"Liberation Sans","labelColor":"#000","rowPadding":0,"offset":6,"padding":0,"labelLimit":300}},
    "detail":{"field":"band"}}},
  {"data":{"name":"dObs"},"mark":{"type":"rule","strokeWidth":1.3},
   "encoding":{"y":{"field":"v","type":"quantitative","axis":null},"color":{"field":"series","type":"nominal"}}},
  {"data":{"name":"dBlue"},"mark":{"type":"point","shape":"M-1,0L1,0M0,-1L0,1M-0.7,-0.7L0.7,0.7M-0.7,0.7L0.7,-0.7","filled":false,"size":100,"strokeWidth":1.3,"color":"#0000ff","opacity":0.9},
   "encoding":{"x":{"field":"g","type":"quantitative","axis":null},"y":{"field":"v","type":"quantitative","axis":null}}},
  {"data":{"name":"dRed"},"mark":{"type":"point","shape":"M-1,0L1,0M0,-1L0,1","filled":false,"size":100,"strokeWidth":1.4,"color":"#ff0000","opacity":0.95},
   "encoding":{"x":{"field":"g","type":"quantitative","axis":{"orient":"top","values":[0.3665,1.4999,2.2504,2.9702,3.9019,4.6001,5.2958,6.2136,6.9073,7.6007,8.5171,9.2103],"labels":false,"title":"annual precipitation normalised Rx3day Loire CORDEX 1950:2015 (95% CI)","titlePadding":19}},
    "y":{"field":"v","type":"quantitative","axis":{"orient":"right","values":[10,20,30,40,50,60,70,80,90],"labels":false,"title":null}}}}
 ]
}
]
}
